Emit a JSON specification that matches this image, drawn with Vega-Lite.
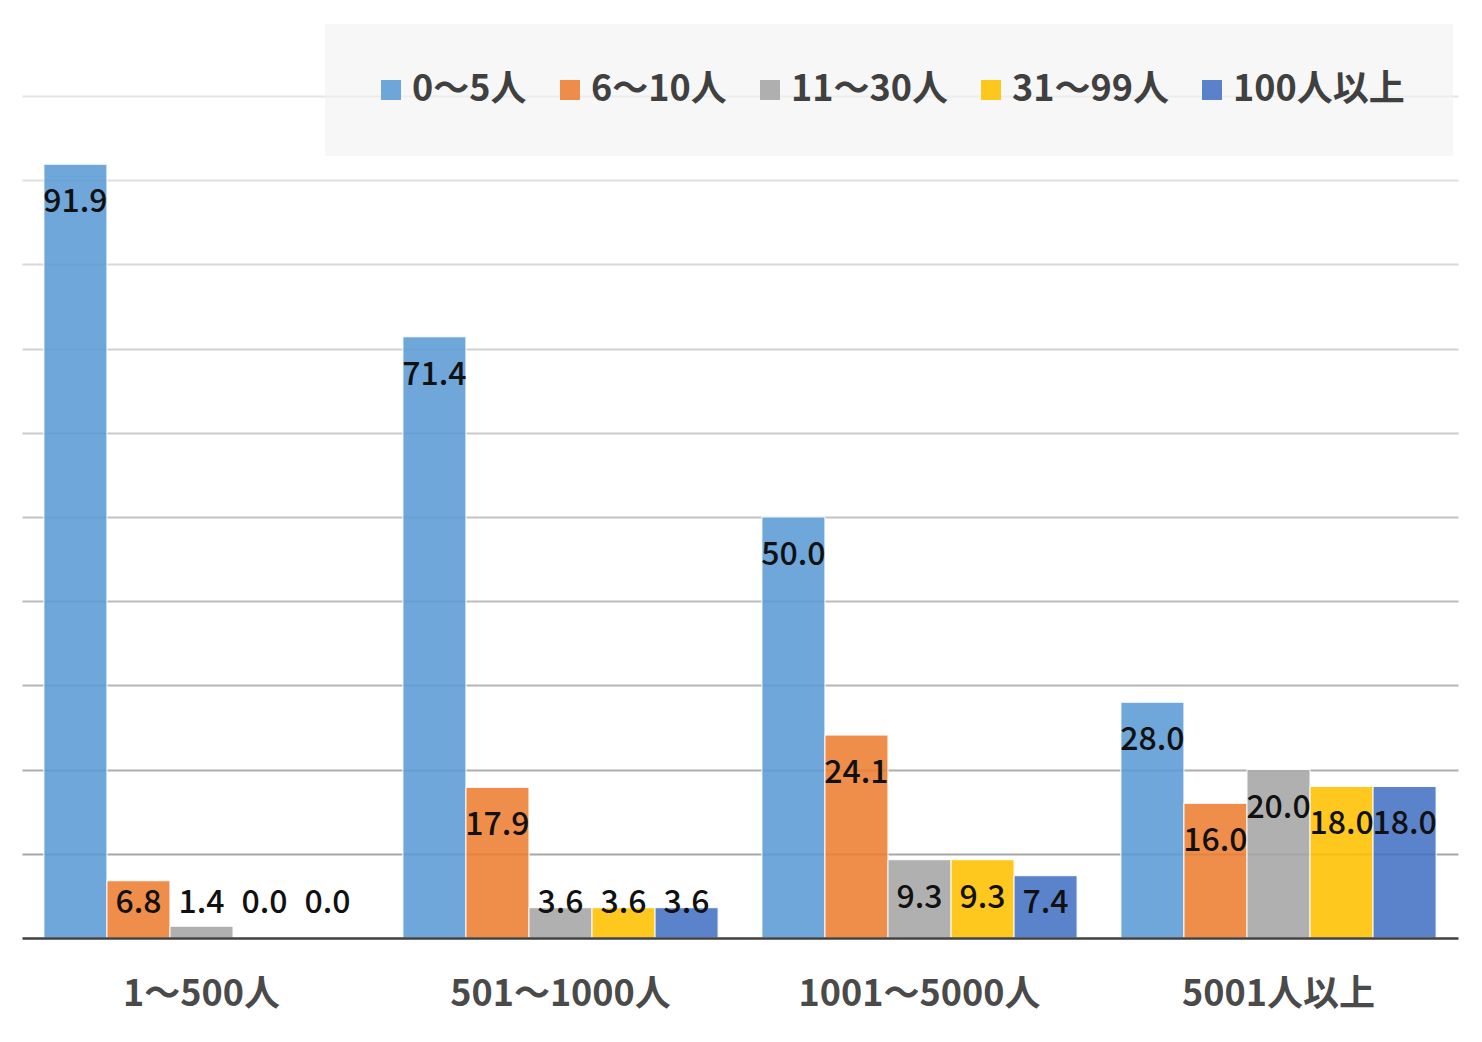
{
  "$schema": "https://vega.github.io/schema/vega-lite/v6.json",
  "width": 1436,
  "height": 842,
  "autosize": {"type": "none"},
  "padding": {"left": 22, "top": 96, "right": 24, "bottom": 104},
  "background": "white",
  "data": {
    "values": [
      {"group": "1～500人", "series": "0～5人", "v": 91.9},
      {"group": "1～500人", "series": "6～10人", "v": 6.8},
      {"group": "1～500人", "series": "11～30人", "v": 1.4},
      {"group": "1～500人", "series": "31～99人", "v": 0.0},
      {"group": "1～500人", "series": "100人以上", "v": 0.0},
      {"group": "501～1000人", "series": "0～5人", "v": 71.4},
      {"group": "501～1000人", "series": "6～10人", "v": 17.9},
      {"group": "501～1000人", "series": "11～30人", "v": 3.6},
      {"group": "501～1000人", "series": "31～99人", "v": 3.6},
      {"group": "501～1000人", "series": "100人以上", "v": 3.6},
      {"group": "1001～5000人", "series": "0～5人", "v": 50.0},
      {"group": "1001～5000人", "series": "6～10人", "v": 24.1},
      {"group": "1001～5000人", "series": "11～30人", "v": 9.3},
      {"group": "1001～5000人", "series": "31～99人", "v": 9.3},
      {"group": "1001～5000人", "series": "100人以上", "v": 7.4},
      {"group": "5001人以上", "series": "0～5人", "v": 28.0},
      {"group": "5001人以上", "series": "6～10人", "v": 16.0},
      {"group": "5001人以上", "series": "11～30人", "v": 20.0},
      {"group": "5001人以上", "series": "31～99人", "v": 18.0},
      {"group": "5001人以上", "series": "100人以上", "v": 18.0}
    ]
  },
  "encoding": {
    "x": {
      "field": "group",
      "type": "nominal",
      "sort": ["1～500人", "501～1000人", "1001～5000人", "5001人以上"],
      "scale": {"paddingInner": 0.122, "paddingOuter": 0.061},
      "axis": {
        "title": null,
        "labelAngle": 0,
        "ticks": false,
        "tickSize": 0,
        "grid": false,
        "domain": true,
        "domainColor": "#404040",
        "domainWidth": 2.5,
        "labelFont": "Noto Sans CJK JP",
        "labelFontSize": 36,
        "labelFontWeight": "bold",
        "labelColor": "#4a4a4a",
        "labelBaseline": "middle",
        "labelPadding": 56,
        "labelLimit": 500,
        "zindex": 1
      }
    },
    "xOffset": {
      "field": "series",
      "type": "nominal",
      "sort": ["0～5人", "6～10人", "11～30人", "31～99人", "100人以上"],
      "scale": {"paddingInner": 0, "paddingOuter": 0}
    },
    "y": {
      "field": "v",
      "type": "quantitative",
      "scale": {"domain": [0, 100], "nice": false},
      "title": null
    }
  },
  "layer": [
    {
      "mark": {"type": "bar", "fillOpacity": 0.88, "stroke": "white", "strokeWidth": 1},
      "encoding": {
        "color": {
          "field": "series",
          "type": "nominal",
          "scale": {
            "domain": ["0～5人", "6～10人", "11～30人", "31～99人", "100人以上"],
            "range": ["#5B9BD5", "#ED7D31", "#A5A5A5", "#FFC000", "#4472C4"]
          },
          "legend": {
            "title": null,
            "orient": "none",
            "direction": "horizontal",
            "legendX": 303,
            "legendY": -72,
            "symbolType": "square",
            "symbolSize": 400,
            "symbolOpacity": 0.88,
            "symbolStrokeWidth": 0,
            "labelFont": "Noto Sans CJK JP",
            "labelFontSize": 36,
            "labelFontWeight": "bold",
            "labelColor": "#404040",
            "labelOffset": 3,
            "labelLimit": 400,
            "columnPadding": 25,
            "padding": 48,
            "fillColor": "rgba(242,242,242,0.6)",
            "strokeColor": null
          }
        }
      }
    },
    {
      "transform": [{"filter": "datum.v >= 8.5"}],
      "mark": {
        "type": "text",
        "dy": 38,
        "baseline": "middle",
        "align": "center",
        "font": "Noto Sans CJK JP",
        "fontSize": 32,
        "fontWeight": 500,
        "color": "#111111"
      },
      "encoding": {
        "text": {"field": "v", "type": "quantitative", "format": ".1f"}
      }
    },
    {
      "transform": [{"filter": "datum.v < 8.5"}],
      "mark": {
        "type": "text",
        "baseline": "middle",
        "align": "center",
        "font": "Noto Sans CJK JP",
        "fontSize": 32,
        "fontWeight": 500,
        "color": "#111111"
      },
      "encoding": {
        "y": {"datum": 4.2, "type": "quantitative", "title": null},
        "text": {"field": "v", "type": "quantitative", "format": ".1f"}
      }
    }
  ],
  "config": {
    "view": {"stroke": null},
    "axisY": {
      "labels": false,
      "ticks": false,
      "domain": false,
      "grid": true,
      "tickCount": 10,
      "gridWidth": 2,
      "gridColor": {
        "condition": [
          {"test": "datum.value <= 0", "value": "transparent"},
          {"test": "datum.value <= 10", "value": "#a7a7a7"},
          {"test": "datum.value <= 20", "value": "#aeaeae"},
          {"test": "datum.value <= 30", "value": "#b5b5b5"},
          {"test": "datum.value <= 40", "value": "#bcbcbc"},
          {"test": "datum.value <= 50", "value": "#c3c3c3"},
          {"test": "datum.value <= 60", "value": "#cacaca"},
          {"test": "datum.value <= 70", "value": "#d1d1d1"},
          {"test": "datum.value <= 80", "value": "#d8d8d8"},
          {"test": "datum.value <= 90", "value": "#dfdfdf"}
        ],
        "value": "#e5e5e5"
      },
      "zindex": 0
    }
  }
}
